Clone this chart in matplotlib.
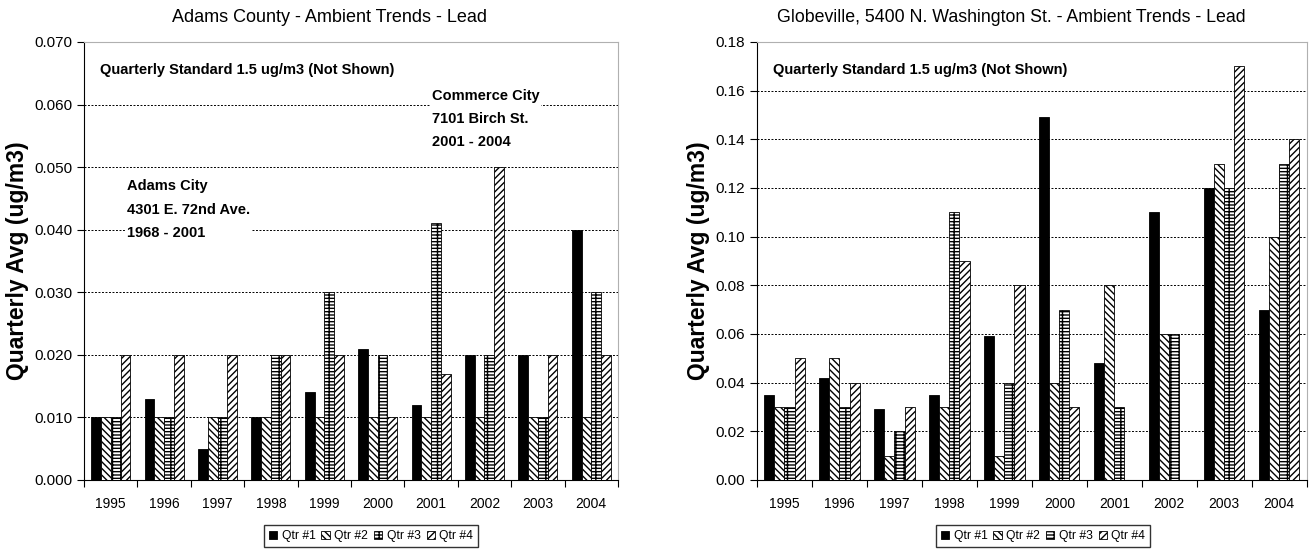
import numpy as np
import matplotlib
matplotlib.use("Agg")
import matplotlib.pyplot as plt
from matplotlib.patches import Patch
from matplotlib.ticker import FormatStrFormatter

plt.rcParams['font.family'] = ['Liberation Sans', 'DejaVu Sans']
plt.rcParams['hatch.linewidth'] = 1.0

# Datos
years = ['1995', '1996', '1997', '1998', '1999', '2000', '2001', '2002', '2003', '2004']
quarters = ['Qtr #1', 'Qtr #2', 'Qtr #3', 'Qtr #4']

adams_q1 = [0.010, 0.013, 0.005, 0.010, 0.014, 0.021, 0.012, 0.020, 0.020, 0.040]
adams_q2 = [0.010, 0.010, 0.010, 0.010, 0.010, 0.010, 0.010, 0.010, 0.010, 0.010]
adams_q3 = [0.010, 0.010, 0.010, 0.020, 0.030, 0.020, 0.041, 0.020, 0.010, 0.030]
adams_q4 = [0.020, 0.020, 0.020, 0.020, 0.020, 0.010, 0.017, 0.050, 0.020, 0.020]

glob_q1 = [0.035, 0.042, 0.029, 0.035, 0.059, 0.149, 0.048, 0.110, 0.120, 0.070]
glob_q2 = [0.030, 0.050, 0.010, 0.030, 0.010, 0.040, 0.080, 0.060, 0.130, 0.100]
glob_q3 = [0.030, 0.030, 0.020, 0.110, 0.040, 0.070, 0.030, 0.060, 0.120, 0.130]
glob_q4 = [0.050, 0.040, 0.030, 0.090, 0.080, 0.030, np.nan, np.nan, 0.170, 0.140]

# estilos de cada trimestre
estilos = [
    dict(color='black', hatch=None),
    dict(color='white', hatch='\\\\\\\\\\'),
    dict(color='white', hatch='++---'),
    dict(color='white', hatch='/////'),
]

fig = plt.figure(figsize=(13.09, 5.49), dpi=100)
ax1 = fig.add_axes([0.0642, 0.1257, 0.4079, 0.7978])
ax2 = fig.add_axes([0.5783, 0.1257, 0.4200, 0.7978])

x = np.arange(len(years))
w = 0.183


def dibujar(ax, series, ymax, step, fmt):
    for i, (vals, st) in enumerate(zip(series, estilos)):
        ax.bar(x + (i - 1.5) * w, vals, w, color=st['color'], hatch=st['hatch'],
               edgecolor='black', linewidth=0.6, zorder=3)
    ax.set_xlim(-0.5, len(years) - 0.5)
    ax.set_ylim(0, ymax)
    ax.set_yticks(np.arange(0, ymax + step / 2, step))
    ax.yaxis.set_major_formatter(FormatStrFormatter(fmt))
    ax.set_xticks(np.arange(-0.5, len(years), 1.0))
    ax.set_xticklabels([])
    ax.set_xticks(x, minor=True)
    ax.set_xticklabels(years, minor=True)
    ax.tick_params(axis='x', which='minor', length=0, pad=12, labelsize=10)
    ax.tick_params(axis='x', which='major', length=5, direction='out')
    ax.tick_params(axis='y', length=5, direction='out', labelsize=11)
    ax.grid(axis='y', linestyle=(0, (2, 1.6)), color='black', linewidth=0.7, zorder=0)
    for s in ['top', 'right']:
        ax.spines[s].set_color('#b0b0b0')
    ax.set_ylabel('Quarterly Avg (ug/m3)', fontsize=16.5, fontweight='bold', labelpad=4)
    ax.text(0.03, 0.935, 'Quarterly Standard 1.5 ug/m3 (Not Shown)', transform=ax.transAxes,
            fontsize=10.5, fontweight='bold', va='center', ha='left', zorder=5)


dibujar(ax1, [adams_q1, adams_q2, adams_q3, adams_q4], 0.070, 0.010, '%.3f')
dibujar(ax2, [glob_q1, glob_q2, glob_q3, glob_q4], 0.18, 0.02, '%.2f')

ax1.text(0.08, 0.617, 'Adams City\n4301 E. 72nd Ave.\n1968 - 2001', transform=ax1.transAxes,
         fontsize=10.5, fontweight='bold', va='center', ha='left', linespacing=1.85,
         bbox=dict(facecolor='white', edgecolor='none', pad=1), zorder=5)
ax1.text(0.652, 0.824, 'Commerce City\n7101 Birch St.\n2001 - 2004', transform=ax1.transAxes,
         fontsize=10.5, fontweight='bold', va='center', ha='left', linespacing=1.85,
         bbox=dict(facecolor='white', edgecolor='none', pad=1), zorder=5)

fig.text(329 / 1309, 1 - 17 / 549, 'Adams County - Ambient Trends - Lead',
         ha='center', va='center', fontsize=13)
fig.text(1011 / 1309, 1 - 17 / 549, 'Globeville, 5400 N. Washington St. - Ambient Trends - Lead',
         ha='center', va='center', fontsize=12.8)

handles = [Patch(facecolor=st['color'], hatch=st['hatch'], edgecolor='black', linewidth=0.6)
           for st in estilos]
for cx in [371 / 1309, 1043 / 1309]:
    fig.legend(handles, quarters, loc='center', bbox_to_anchor=(cx, 1 - 536 / 549), ncol=4,
               fontsize=8.7, frameon=True, fancybox=False, edgecolor='black',
               handlelength=0.7, handleheight=0.7, handletextpad=0.35, columnspacing=0.5,
               borderpad=0.4, borderaxespad=0)

fig.savefig('out.png', dpi=100)
